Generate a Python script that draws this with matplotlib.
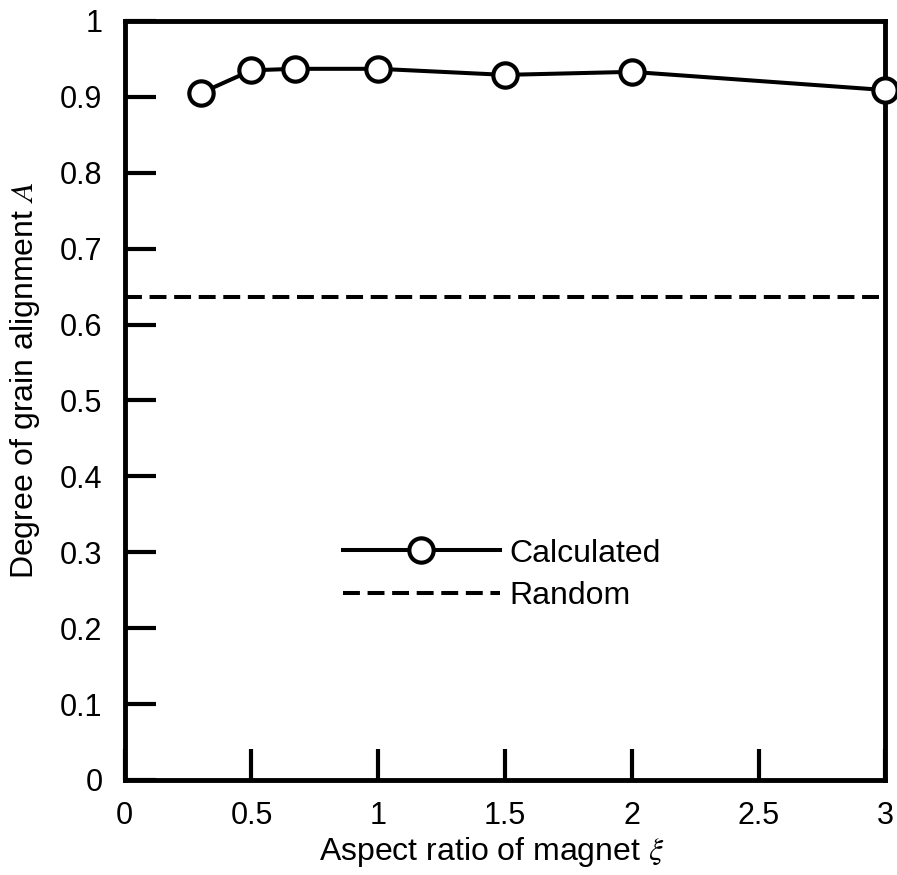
import matplotlib.pyplot as plt
from matplotlib.ticker import FuncFormatter

# aspect ratio of the magnet vs calculated degree of grain alignment
aspect_ratio = [0.3, 0.5, 0.67, 1.0, 1.5, 2.0, 3.0]
alignment = [0.905, 0.935, 0.937, 0.937, 0.929, 0.933, 0.909]
random_level = 0.636

x_ticks = [0, 0.5, 1, 1.5, 2, 2.5, 3]
y_ticks = [0, 0.1, 0.2, 0.3, 0.4, 0.5, 0.6, 0.7, 0.8, 0.9, 1]

plt.rcParams["font.family"] = ["Liberation Sans", "DejaVu Sans"]
plt.rcParams["mathtext.fontset"] = "stix"

fig = plt.figure(figsize=(8.97, 8.75), dpi=100)
ax = fig.add_axes([0.139, 0.1086, 0.848, 0.8674])

ax.plot(aspect_ratio, alignment, "-o", color="black", lw=2.9, ms=17.5,
        mfc="white", mec="black", mew=3, clip_on=False, zorder=3,
        label="Calculated")
ax.axhline(random_level, color="black", lw=2.9, dashes=(4.2, 1.9),
           label="Random")

ax.set_xlim(0, 3)
ax.set_ylim(0, 1)
ax.set_xticks(x_ticks)
ax.set_yticks(y_ticks)
fmt = FuncFormatter(lambda v, p: f"{v:g}")
ax.xaxis.set_major_formatter(fmt)
ax.yaxis.set_major_formatter(fmt)
ax.tick_params(direction="in", length=22, width=3, labelsize=22)
ax.tick_params(axis="x", pad=15)
ax.tick_params(axis="y", pad=16)

for sp in ax.spines.values():
    sp.set_linewidth(3.5)

ax.set_xlabel(r"Aspect ratio of magnet $\xi$", fontsize=23)
ax.set_ylabel(r"Degree of grain alignment $A$", fontsize=23)
ax.xaxis.set_label_coords(0.482, -0.073)
ax.yaxis.set_label_coords(-0.109, 0.527)

ax.legend(loc="center left", bbox_to_anchor=(0.287, 0.27), frameon=False,
          fontsize=23, handlelength=4.9, handletextpad=0.3,
          labelspacing=0.4, borderpad=0, borderaxespad=0)

fig.savefig("out.png", dpi=100)
